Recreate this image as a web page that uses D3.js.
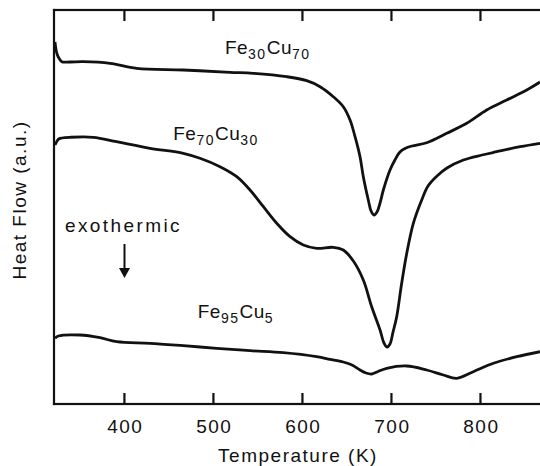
<!DOCTYPE html>
<html><head><meta charset="utf-8">
<script src="https://cdn.jsdelivr.net/npm/d3@7"></script>
<style>
html,body{margin:0;padding:0;background:#fff;}
text{font-family:"Liberation Sans",Arial,Helvetica,sans-serif;fill:#111;}
</style></head>
<body><svg id="c" width="540" height="466"></svg>
<script>
// Temperature (K) and heat flow (a.u.)
const fe30cu70 = [[322.1,362],[323.8,352],[325.8,347],[329.7,342.3],[339,342],[353.9,342.3],[383.9,340.7],[413.9,335.7],[466.3,334],[518.7,331.7],[544.9,330.7],[582.4,327.3],[604.9,323.3],[619.9,317.3],[634.8,307.3],[646,297.3],[653.6,284],[659.2,267.3],[664.8,247.3],[668.5,227.3],[674.1,204],[677.2,193],[680.5,189],[683.9,192],[687.3,201],[691,214],[698.5,234],[704,244],[709.7,252],[715.3,255.5],[723.2,258],[739.7,261.3],[762.2,270.7],[784.7,280.7],[807.1,294],[829.6,304],[852.1,314],[867,322]];
const fe70cu30 = [[322.1,259],[325.8,264.7],[330,266],[339,266.7],[365.2,266.7],[391.4,262.3],[428.9,255.7],[466.3,250.7],[485,245.7],[507.5,237.3],[526.3,227.3],[541.2,214],[556.2,197.3],[571.2,180.7],[586.2,167.3],[601.1,159],[616.1,155.7],[634.8,156.7],[646,154],[657.3,143],[668.5,124],[677.9,97.3],[687.3,74],[691.7,61],[695.1,57],[698.5,60],[701.9,72],[706,87.3],[711.6,120.7],[717.3,150.7],[724.7,180.7],[734.1,204],[741.2,218],[751.3,228],[762.5,236],[780.9,244],[801.9,249],[818.4,252.3],[844.6,257.3],[867,260.7]];
const fe95cu5 = [[322.1,65.7],[325.8,68],[350.2,69],[372.7,66.3],[391.4,62.3],[428.9,60.7],[466.3,58.3],[503.8,55.7],[541.2,53.3],[578.6,51.3],[616.1,47.3],[631.1,44.7],[646,42],[655.8,39],[664.8,34],[671.6,31],[677.9,30],[685,32.5],[694.8,35.7],[717.3,38],[739.7,34],[758.4,29],[773.4,25.7],[792.1,32.3],[814.6,40.7],[840.9,47.3],[867,52.3]];
const xTicks = [400,500,600,700,800];
const labels = [
  {base:"Fe", s1:"30", el:"Cu", s2:"70", T:513, v:350},
  {base:"Fe", s1:"70", el:"Cu", s2:"30", T:455, v:264},
  {base:"Fe", s1:"95", el:"Cu", s2:"5", T:482.5, v:86}
];

const svg = d3.select("#c");
const x = d3.scaleLinear().domain([321,867]).range([54,540]);
const y = d3.scaleLinear().domain([0,394]).range([404,10]);
const ink = "#111";

// frame as filled bars
const W = 2.2;
const frameG = svg.append("g").attr("class","frame");
frameG.append("rect").attr("x",x(321)-W/2).attr("y",y(394)-W/2).attr("width",x(867)-x(321)+W).attr("height",W).attr("fill",ink);
frameG.append("rect").attr("x",x(321)-W/2).attr("y",y(0)-W/2).attr("width",x(867)-x(321)+W).attr("height",W).attr("fill",ink);
frameG.append("rect").attr("x",x(321)-W/2).attr("y",y(394)-W/2).attr("width",W).attr("height",y(0)-y(394)+W).attr("fill",ink);

// inward ticks on top and bottom
frameG.selectAll("rect.tb").data(xTicks).join("rect").attr("class","tb")
  .attr("x",d=>x(d)-1).attr("y",y(0)-11).attr("width",2.2).attr("height",11).attr("fill",ink);
frameG.selectAll("rect.tt").data(xTicks).join("rect").attr("class","tt")
  .attr("x",d=>x(d)-1).attr("y",y(394)).attr("width",2.2).attr("height",11).attr("fill",ink);
svg.selectAll("text.tick").data(xTicks).join("text").attr("class","tick")
  .attr("x",d=>x(d)+1).attr("y",y(0)+29).attr("text-anchor","middle")
  .attr("font-size",19).style("letter-spacing","1.5px").text(d=>d);

const line = d3.line().x(d=>x(d[0])).y(d=>y(d[1])).curve(d3.curveCatmullRom.alpha(0.5));
[fe30cu70, fe70cu30, fe95cu5].forEach(s=>{
  svg.append("path").attr("d",line(s)).attr("fill","none").attr("stroke",ink).attr("stroke-width",2.8).attr("stroke-linejoin","round");
});

labels.forEach(l=>{
  const t = svg.append("text").attr("x",x(l.T)).attr("y",y(l.v)).attr("font-size",19).style("letter-spacing","0.5px");
  t.append("tspan").text(l.base);
  t.append("tspan").attr("font-size",14).attr("dy",5).style("letter-spacing","1.5px").text(l.s1);
  t.append("tspan").attr("dy",-5).text(l.el);
  t.append("tspan").attr("font-size",14).attr("dy",5).style("letter-spacing","1.5px").text(l.s2);
});

svg.append("text").attr("x",65).attr("y",232).attr("font-size",19).style("letter-spacing","2.4px").text("exothermic");
svg.append("path").attr("d","M124.5,244 L124.5,270").attr("stroke",ink).attr("stroke-width",2);
svg.append("path").attr("d","M119,268 L130,268 L124.5,278 Z").attr("fill",ink);

svg.append("text").attr("x",298).attr("y",462).attr("text-anchor","middle").attr("font-size",19).style("letter-spacing","1.5px").text("Temperature  (K)");
svg.append("text").attr("transform","translate(26,200) rotate(-90)").attr("text-anchor","middle").attr("font-size",19).style("letter-spacing","1.5px").text("Heat Flow  (a.u.)");
</script></body></html>
